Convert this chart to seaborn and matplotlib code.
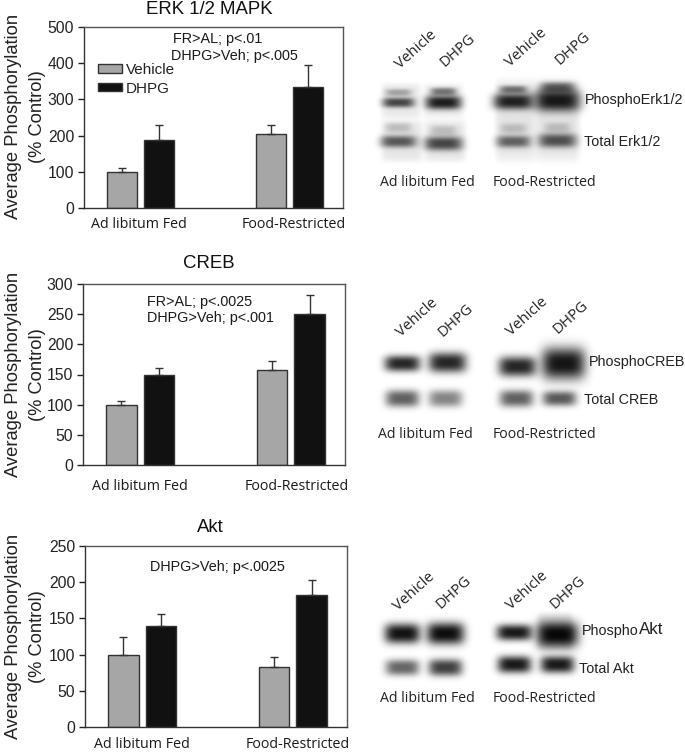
import numpy as np
import pandas as pd
import matplotlib
matplotlib.use("Agg")
import matplotlib.pyplot as plt
import seaborn as sns

groups = ["Ad libitum Fed", "Food-Restricted"]
treatments = ["Vehicle", "DHPG"]
erk_means = [100, 188, 204, 333]
erk_tops = [111, 229, 229, 395]
creb_means = [100, 150, 157, 250]
creb_tops = [106, 161, 172, 281]
akt_means = [100, 139, 83, 182]
akt_tops = [124, 156, 96, 203]
titles = ["ERK 1/2 MAPK", "CREB", "Akt"]
ylims = [500, 300, 250]
ysteps = [100, 50, 50]
notes = [["FR>AL; p<.01", "DHPG>Veh; p<.005"], ["FR>AL; p<.0025", "DHPG>Veh; p<.001"], ["DHPG>Veh; p<.0025"]]
blot_labels = [["PhosphoErk1/2", "Total Erk1/2"], ["PhosphoCREB", "Total CREB"], ["Phospho", "Total Akt"]]

W, H = 685, 755
sns.set_theme(style="white", rc={"axes.linewidth": 1.0})
plt.rcParams["font.family"] = ["Liberation Sans", "DejaVu Sans"]
fig = plt.figure(figsize=(W / 100, H / 100), dpi=100, facecolor="white")


def fx(x):
    return x / W


def fy(y):
    return 1 - y / H


def ptext(x, y, s, **kw):
    kw.setdefault("va", "center")
    kw.setdefault("ha", "left")
    kw.setdefault("color", "#1a1a1a")
    return fig.text(fx(x), fy(y), s, **kw)


# ---- blot panels (pixel-space image) ----
# (cx, cy, half-width, half-height, darkness)
bands = [
    (398, 102, 16, 5, .70), (398, 92, 13, 3.6, .30), (443, 102, 18, 7, .88), (443, 91, 13, 4, .50),
    (513, 101, 20, 8, .86), (513, 89, 14, 4, .50), (557, 100, 23, 11, .90), (557, 87, 17, 5.5, .58),
    (398, 141, 18, 6, .62), (398, 127, 13, 5, .18), (443, 143, 19, 7, .70), (443, 130, 13, 5, .18),
    (513, 141, 17, 6, .58), (513, 128, 13, 5, .18), (557, 140, 19, 7, .66), (557, 127, 13, 5, .18),
    (402, 363, 18, 8, .85), (447, 362, 19, 10, .85), (517, 366, 19, 10, .85), (563, 363, 22, 16, .92),
    (402, 398, 17, 8.5, .62), (445, 398, 17, 8.5, .48), (516, 398, 17, 8.5, .62), (559, 398, 17, 7.5, .65),
    (402, 633, 18, 10, .93), (445, 633, 19, 11, .95), (514, 632, 18, 8, .90), (557, 634, 21, 13, .97),
    (402, 667, 17, 8, .60), (445, 667, 17, 8.5, .75), (514, 664, 17, 8.5, .90), (557, 664, 17, 8.5, .90),
]
# (x0, x1, y0, y1, darkness)
panels = [(381, 420, 83, 118, .09), (423, 463, 83, 118, .07), (381, 422, 120, 161, .10), (424, 465, 120, 161, .10),
          (495, 535, 80, 160, .11), (535, 579, 80, 160, .11), (537, 572, 613, 650, .12)]
yy, xx = np.mgrid[0:H, 0:W]
light = np.ones((H, W))
for x0, x1, y0, y1, d in panels:
    m = np.exp(-((xx - (x0 + x1) / 2) / ((x1 - x0) / 2)) ** 8 - ((yy - (y0 + y1) / 2) / ((y1 - y0) / 2)) ** 8)
    light *= 1 - d * m
for cx, cy, hx, hy, d in bands:
    m = np.exp(-(np.abs(xx - cx) / hx) ** 4 - (np.abs(yy - cy) / hy) ** 2.6)
    light *= 1 - d * m
bg = fig.add_axes([0, 0, 1, 1], zorder=0)
bg.imshow(light, cmap="gray", vmin=0, vmax=1, aspect="auto", extent=(0, W, H, 0), interpolation="bilinear")
bg.axis("off")

# ---- bar charts ----
boxes = [(84, 343, 27, 208), (83, 345, 284, 465), (85, 347, 546, 727)]
all_means = [erk_means, creb_means, akt_means]
all_tops = [erk_tops, creb_tops, akt_tops]
title_pos = [(209, 10), (209, 263), (210, 527)]
for i in range(3):
    L, R, T, B = boxes[i]
    ax = fig.add_axes([fx(L), fy(B), (R - L) / W, (B - T) / H], zorder=2, facecolor="white")
    df = pd.DataFrame({
        "group": [g for g in groups for _ in treatments],
        "treatment": treatments * 2,
        "value": all_means[i],
    })
    sns.barplot(data=df, x="group", y="value", hue="treatment", palette=["#a6a6a6", "#111111"],
                width=0.497, gap=0.19, errorbar=None, saturation=1, edgecolor="#333333", linewidth=1.0,
                ax=ax, legend=False)
    rects = [p for c in ax.containers for p in c]
    order = [0, 2, 1, 3]
    for p, k in zip(rects, order):
        m, t = all_means[i][k], all_tops[i][k]
        ax.errorbar(p.get_x() + p.get_width() / 2, m, yerr=[[0], [t - m]], color="#333333", lw=1.0,
                    capsize=3, capthick=1.0, zorder=1)
    ax.set_xlim(-0.379, 1.359)
    ax.set_ylim(0, ylims[i])
    ax.set_yticks(np.arange(0, ylims[i] + 1, ysteps[i]))
    ax.set_xlabel("")
    ax.set_ylabel("")
    ax.set_xticks([0, 1])
    ax.set_xticklabels([])
    ax.tick_params(axis="y", length=4, width=1, color="#222222", labelsize=11.3, pad=3, left=True, labelcolor="#222222")
    ax.tick_params(axis="x", length=0)
    for s, sp in ax.spines.items():
        sp.set_color("#333333" if s in ("left", "bottom") else "#555555")
        sp.set_visible(True)

    ptext(title_pos[i][0], title_pos[i][1], titles[i], ha="center", fontsize=13.4, color="#111111")
    ylab_y = (T + B) / 2 - [1, 0, 0][i]
    ptext(14, ylab_y, "Average Phosphorylation", rotation=90, ha="center", fontsize=13.2, color="#222222")
    ptext(38, ylab_y, "(% Control)", rotation=90, ha="center", fontsize=13.2, color="#222222")
    xt_y = B + 17 + [0, 4, 0][i] + ([0, 0, 1][i])
    ptext(L + 55 + [0, 2, 2][i], xt_y, groups[0], ha="center", fontsize=10.3, family=["Open Sans", "DejaVu Sans"])
    ptext(L + 210 + [0, 4, 3][i], xt_y, groups[1], ha="center", fontsize=10.3, family=["Open Sans", "DejaVu Sans"])

    note_x = [173, 147, 150][i]
    note_y = [39, 302, 567][i]
    note_dy = [17, 16, 0][i]
    for j, line in enumerate(notes[i]):
        ptext(note_x - (0 if j == 0 else [2, 0, 0][i]), note_y + j * note_dy, line, fontsize=10.4, zorder=5)

    if i == 0:
        h1 = plt.Rectangle((0, 0), 1, 1, fc="#a6a6a6", ec="#333333", lw=1)
        h2 = plt.Rectangle((0, 0), 1, 1, fc="#111111", ec="#333333", lw=1)
        leg = ax.legend([h1, h2], treatments, frameon=False, loc="upper left",
                        bbox_to_anchor=((98 - L) / (R - L), (B - 63) / (B - T)), borderaxespad=0, borderpad=0,
                        handlelength=1.6, handleheight=0.45, handletextpad=0.2, labelspacing=0.3,
                        fontsize=11)
        for tx in leg.get_texts():
            tx.set_color("#222222")

# ---- blot annotations ----
head = [
    [(416, 50), (458, 50), (526, 48), (573, 48)],
    [(417, 318), (456, 320), (527, 317), (571, 317)],
    [(414, 592), (454, 592), (527, 591), (568, 592)],
]
for i in range(3):
    for (x, y), s in zip(head[i], ["Vehicle", "DHPG", "Vehicle", "DHPG"]):
        ptext(x, y, s, rotation=42, ha="center", rotation_mode="anchor", fontsize=10.8,
              family=["Open Sans", "DejaVu Sans"], color="#222222")

lab_pos = [[(585, 100), (584, 142)], [(589, 362), (584, 400)], [(582, 631), (579, 669)]]
for i in range(3):
    for (x, y), s in zip(lab_pos[i], blot_labels[i]):
        ptext(x, y, s, fontsize=10.4, color="#222222")
ptext(639, 630, "Akt", fontsize=12.2, color="#222222")

cap_pos = [[(380, 182), (493, 182)], [(378, 435), (493, 435)], [(380, 699), (493, 699)]]
for i in range(3):
    for (x, y), s in zip(cap_pos[i], groups):
        ptext(x, y, s, fontsize=10.2, family=["Open Sans", "DejaVu Sans"], color="#222222")

fig.savefig("out.png", dpi=100, facecolor="white")
